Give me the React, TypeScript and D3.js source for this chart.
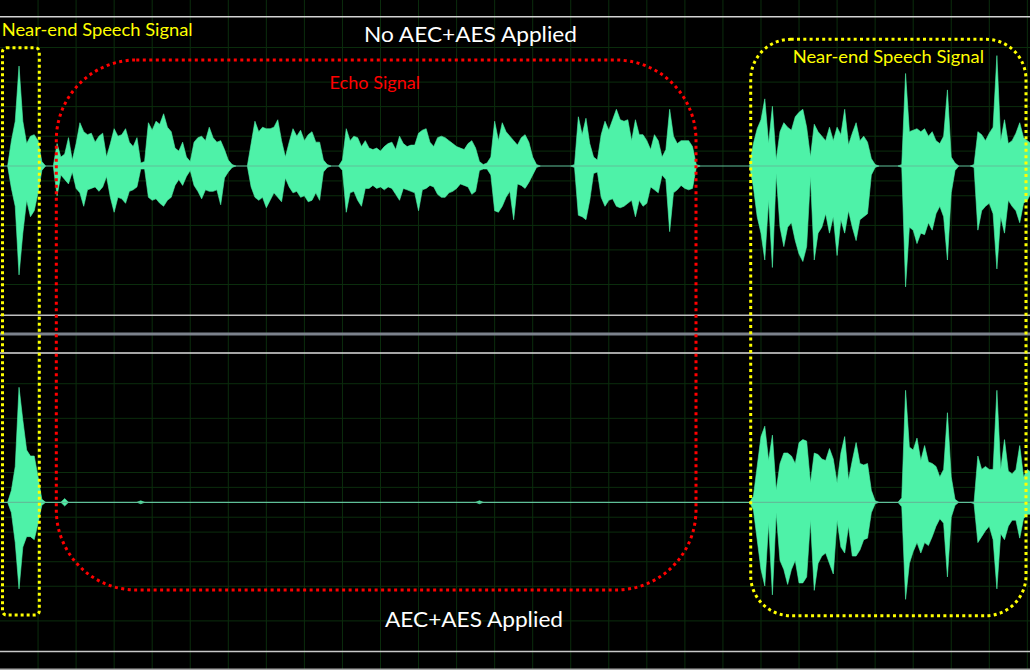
import React from 'react';
import * as d3 from 'd3';

const W = 1030;
const H = 670;
// time axis in frames: one grid division = 10 frames
const TOTAL_FRAMES = 270.7;
const GRID_FRAMES = [10, 20, 30, 40, 50, 60, 70, 80, 90, 100, 110, 120, 130, 140, 150, 160, 170, 180, 190, 200, 210, 220, 230, 240, 250, 260, 270];
// amplitude grid in dB (mirrored above/below centre)
const GRID_DB = [-2, -5, -8, -14, -20];

// ---------- Top channel: No AEC+AES (amplitude in % of full scale) ----------
const topNearA_start = 3;
const topNearA_up = [17, 30, 67, 30, 15, 20, 21, 17, 3];
const topNearA_lo = [-15, -27, -73, -45, -23, -34, -30, -18, -3];

const topEcho1_start = 15;
const topEcho1_up = [15, 6, 8, 19, 4, 15, 29, 23, 21, 22, 16, 20, 22, 6, 15, 25, 20, 21, 25, 16, 13, 19, 2, 3, 29, 24, 30, 28, 35, 26, 23, 12, 10, 16, 6, 3, 16, 19, 20, 17, 26, 19, 16, 17, 11, 4, 1];
const topEcho1_lo = [-20, -6, -9, -12, -4, -15, -18, -27, -16, -15, -14, -17, -14, -7, -21, -31, -21, -22, -25, -17, -16, -14, -2, -2, -21, -23, -22, -25, -27, -23, -21, -13, -9, -13, -7, -3, -13, -17, -22, -16, -17, -17, -16, -26, -8, -4, -1];

const topEcho2_start = 66;
const topEcho2_up = [15, 30, 23, 26, 25, 25, 26, 31, 17, 6, 16, 25, 20, 24, 17, 21, 23, 16, 16, 4, 1];
const topEcho2_lo = [-14, -21, -23, -21, -28, -23, -18, -21, -24, -8, -14, -18, -17, -21, -20, -24, -23, -18, -23, -4, -1];

const topEcho3_start = 90;
const topEcho3_up = [4, 25, 17, 20, 19, 13, 17, 12, 11, 12, 10, 13, 15, 16, 11, 20, 15, 13, 14, 14, 22, 24, 25, 16, 13, 19, 20, 19, 17, 15, 13, 12, 11, 15, 17, 12, 3, 1, 2, 6, 30, 17, 29, 23, 20, 17, 14, 19, 21, 16, 6, 1];
const topEcho3_lo = [-3, -31, -18, -17, -23, -27, -15, -15, -13, -15, -14, -16, -14, -15, -19, -23, -15, -16, -17, -18, -30, -16, -15, -13, -14, -19, -21, -21, -18, -17, -15, -12, -13, -14, -19, -17, -3, -2, -2, -6, -30, -31, -27, -21, -17, -36, -12, -13, -15, -11, -6, -1];

const topEcho4_start = 151;
const topEcho4_up = [1, 33, 21, 32, 15, 6, 4, 21, 30, 24, 31, 38, 31, 30, 31, 17, 31, 21, 21, 17, 11, 21, 17, 6, 11, 38, 20, 15, 17, 17, 17, 13, 1];
const topEcho4_lo = [-1, -33, -34, -36, -23, -5, -4, -21, -27, -23, -22, -27, -28, -27, -25, -23, -34, -23, -27, -25, -14, -16, -18, -6, -9, -44, -18, -16, -13, -15, -16, -15, -1];

const topNearR1_start = 198;
const topNearR1_up = [15, 25, 31, 45, 15, 40, 4, 23, 29, 26, 24, 33, 36, 38, 26, 6, 28, 23, 20, 17, 26, 17, 26, 21, 38, 14, 22, 29, 17, 20, 16, 5, 1];
const topNearR1_lo = [-14, -34, -45, -63, -23, -68, -5, -41, -54, -41, -38, -50, -59, -64, -54, -7, -63, -45, -41, -32, -45, -34, -60, -36, -45, -30, -41, -50, -36, -34, -32, -6, -1];

const topNearR2_start = 237;
const topNearR2_up = [1, 62, 23, 24, 25, 23, 25, 20, 23, 17, 15, 20, 51, 6, 2];
const topNearR2_lo = [-1, -81, -41, -43, -52, -45, -46, -38, -43, -32, -27, -34, -63, -18, -3];

const topNearR3_start = 256;
const topNearR3_up = [1, 23, 21, 17, 22, 26, 74, 17, 31, 15, 17, 22, 29, 19, 17, 15];
const topNearR3_lo = [-1, -43, -30, -27, -25, -32, -69, -34, -45, -23, -27, -30, -38, -25, -23, -18];

// ---------- Bottom channel: AEC+AES applied ----------
const botNearA_start = 3;
const botNearA_up = [8, 24, 77, 55, 35, 31, 31, 17, 2];
const botNearA_lo = [-7, -27, -58, -30, -23, -23, -25, -14, -2];

const botResidual_frames = [17, 37, 126];
const botResidual_amp = [2.5, 1, 1];

const botNearR1_start = 198;
const botNearR1_up = [4, 24, 44, 51, 28, 45, 8, 26, 33, 33, 31, 26, 40, 42, 41, 13, 33, 32, 29, 28, 36, 29, 13, 33, 44, 15, 28, 40, 26, 25, 26, 8, 1];
const botNearR1_lo = [-5, -25, -45, -56, -14, -62, -7, -39, -45, -55, -45, -39, -54, -54, -50, -12, -59, -41, -36, -34, -41, -48, -12, -30, -34, -16, -36, -36, -32, -25, -24, -7, -1];

const botNearR2_start = 237;
const botNearR2_up = [3, 75, 37, 35, 43, 28, 38, 27, 26, 24, 17, 22, 60, 17, 2];
const botNearR2_lo = [-3, -65, -41, -33, -27, -34, -27, -29, -23, -16, -11, -14, -50, -10, -2];

const botNearR3_start = 256;
const botNearR3_up = [0, 31, 22, 24, 22, 22, 75, 22, 42, 21, 19, 22, 38, 17, 22, 20];
const botNearR3_lo = [-1, -27, -23, -19, -16, -25, -58, -21, -25, -16, -12, -12, -24, -11, -8, -8];

type Burst = [number, number[], number[]];

const TOP_BURSTS: Burst[] = [
  [topNearA_start, topNearA_up, topNearA_lo],
  [topEcho1_start, topEcho1_up, topEcho1_lo],
  [topEcho2_start, topEcho2_up, topEcho2_lo],
  [topEcho3_start, topEcho3_up, topEcho3_lo],
  [topEcho4_start, topEcho4_up, topEcho4_lo],
  [topNearR1_start, topNearR1_up, topNearR1_lo],
  [topNearR2_start, topNearR2_up, topNearR2_lo],
  [topNearR3_start, topNearR3_up, topNearR3_lo],
];

const BOT_BURSTS: Burst[] = [
  [botNearA_start, botNearA_up, botNearA_lo],
  ...botResidual_frames.map((f, i) => [f, [botResidual_amp[i]], [-botResidual_amp[i]]] as Burst),
  [botNearR1_start, botNearR1_up, botNearR1_lo],
  [botNearR2_start, botNearR2_up, botNearR2_lo],
  [botNearR3_start, botNearR3_up, botNearR3_lo],
];

type Pt = { f: number; u: number; l: number };

function toPoints([start, up, lo]: Burst): Pt[] {
  const pts = up.map((u, i) => ({ f: start + i, u, l: lo[i] }));
  return [{ f: start - 1, u: 0, l: 0 }, ...pts, { f: start + up.length, u: 0, l: 0 }];
}

const WAVE = '#4ef2a8';
const CENTER = '#5fbf98';
const GRID = '#0b2d0d';

const x = d3.scaleLinear().domain([0, TOTAL_FRAMES]).range([0, W]);
const yTop = d3.scaleLinear().domain([-1, 1]).range([315.2, 16.8]);
const yBot = d3.scaleLinear().domain([-1, 1]).range([651.6, 353]);

function Channel({ y, bursts }: { y: d3.ScaleLinear<number, number>; bursts: Burst[] }) {
  const area = d3
    .area<Pt>()
    .x((d) => x(d.f))
    .y0((d) => y(d.l / 100))
    .y1((d) => y(d.u / 100));
  const levels = GRID_DB.map((db) => Math.pow(10, db / 20));
  return (
    <g>
      {levels.flatMap((a, i) => [
        <line key={'p' + i} x1={0} x2={W} y1={y(a)} y2={y(a)} stroke={GRID} strokeWidth={1} />,
        <line key={'n' + i} x1={0} x2={W} y1={y(-a)} y2={y(-a)} stroke={GRID} strokeWidth={1} />,
      ])}
      {bursts.map((b, i) => (
        <path key={i} d={area(toPoints(b)) || ''} fill={WAVE} stroke={WAVE} strokeWidth={0.6} strokeLinejoin="miter" />
      ))}
      <line x1={0} x2={W} y1={y(0)} y2={y(0)} stroke={CENTER} strokeWidth={1.2} />
    </g>
  );
}

export default function App() {
  const font = 'Lato, "Open Sans", "Noto Sans", sans-serif';
  return (
    <svg
      width={W}
      height={H}
      viewBox={`0 0 ${W} ${H}`}
      style={{ position: 'absolute', left: 0, top: 0, display: 'block', background: '#000' }}
    >
      <rect x={0} y={0} width={W} height={H} fill="#000" />
      {GRID_FRAMES.map((f) => (
        <line key={f} x1={x(f)} x2={x(f)} y1={0} y2={H} stroke={GRID} strokeWidth={1} />
      ))}
      <Channel y={yTop} bursts={TOP_BURSTS} />
      <Channel y={yBot} bursts={BOT_BURSTS} />

      {/* channel boundaries */}
      <line x1={0} x2={W} y1={yTop(1)} y2={yTop(1)} stroke="#d4d4d4" strokeWidth={1.5} />
      <line x1={0} x2={W} y1={yTop(-1)} y2={yTop(-1)} stroke="#c0c0c0" strokeWidth={1.5} />
      <line x1={0} x2={W} y1={334} y2={334} stroke="#7c828c" strokeWidth={2.8} />
      <line x1={0} x2={W} y1={yBot(1)} y2={yBot(1)} stroke="#dcdcdc" strokeWidth={1.5} />
      <line x1={0} x2={W} y1={yBot(-1)} y2={yBot(-1)} stroke="#c8c8c8" strokeWidth={1.5} />
      <line x1={0} x2={W} y1={669.2} y2={669.2} stroke="#a8a8a8" strokeWidth={1.5} />

      {/* annotation boxes */}
      <rect x={2.5} y={47.7} width={36.8} height={567.3} rx={4} ry={4} fill="none" stroke="#ffff00" strokeWidth={3} strokeDasharray="3 3" />
      <rect x={56.3} y={60} width={639.7} height={530} rx={80} ry={80} fill="none" stroke="#ff0000" strokeWidth={3} strokeDasharray="3 3.5" />
      <rect x={750.7} y={39.3} width={275.3} height={576.4} rx={40} ry={40} fill="none" stroke="#ffff00" strokeWidth={3} strokeDasharray="3 3.3" />

      {/* labels */}
      <text x={1.7} y={36} fontFamily={font} fontSize={18} fill="#ffff00" textLength={191} lengthAdjust="spacingAndGlyphs">
        Near-end Speech Signal
      </text>
      <text x={364} y={41.7} fontFamily={font} fontSize={22} fill="#ffffff" textLength={213} lengthAdjust="spacingAndGlyphs">
        No AEC+AES Applied
      </text>
      <text x={329.5} y={89.3} fontFamily={font} fontSize={18} fill="#ff0000" textLength={90.5} lengthAdjust="spacingAndGlyphs">
        Echo Signal
      </text>
      <text x={792.7} y={62.7} fontFamily={font} fontSize={18} fill="#ffff00" textLength={191.3} lengthAdjust="spacingAndGlyphs">
        Near-end Speech Signal
      </text>
      <text x={385} y={627.3} fontFamily={font} fontSize={22} fill="#ffffff" textLength={178} lengthAdjust="spacingAndGlyphs">
        AEC+AES Applied
      </text>
    </svg>
  );
}
